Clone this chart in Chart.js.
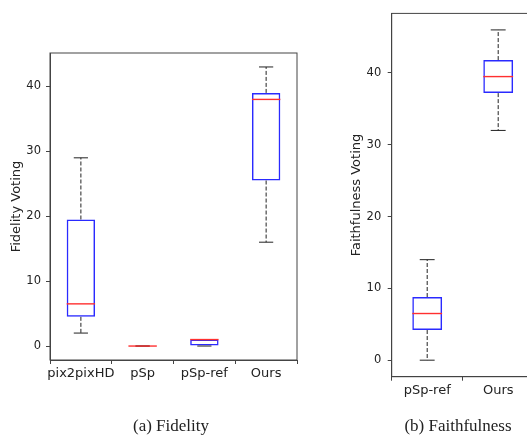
<!DOCTYPE html>
<html>
<head>
<meta charset="utf-8">
<script src="https://cdn.jsdelivr.net/npm/chart.js@4"></script>
<style>
  html, body { margin: 0; padding: 0; background: #fff; overflow: hidden; width: 527px; height: 436px; }
  .panel { position: absolute; top: 0; }
  .caption { position: absolute; top: 417px; font-family: "Liberation Serif", "Times New Roman", serif; font-size: 17px; line-height: 17px; color: #222; white-space: nowrap; transform: translateX(-50%); }
</style>
</head>
<body>
<div class="panel" style="left:0px"><canvas id="fidelityChart" width="320" height="436"></canvas></div>
<div class="panel" style="left:340px"><canvas id="faithChart" width="200" height="436"></canvas></div>
<div class="caption" style="left:171px">(a) Fidelity</div>
<div class="caption" style="left:458px">(b) Faithfulness</div>
<script>
// (a) Fidelity
const fidelityLabels = ['pix2pixHD', 'pSp', 'pSp-ref', 'Ours'];
const fidelityLow = [2, 0, 0, 16];
const fidelityQ1 = [4.5, 0, 0, 25.5];
const fidelityMedian = [6.5, 0, 1, 38];
const fidelityQ3 = [19.5, 0, 1, 39];
const fidelityHigh = [29, 0, 1, 43];
const fidelityTicks = [0, 10, 20, 30, 40];

// (b) Faithfulness
const faithLabels = ['pSp-ref', 'Ours'];
const faithLow = [0, 32];
const faithQ1 = [4.2, 37.2];
const faithMedian = [6.5, 39.5];
const faithQ3 = [8.8, 41.8];
const faithHigh = [14, 46];
const faithTicks = [0, 10, 20, 30, 40];

const FONT = 'DejaVu Sans';

// whiskers, caps, medians and the frame - chart.js has no boxplot
const boxExtras = (low, med, high) => ({
  id: 'boxExtras',
  afterDatasetsDraw(chart) {
    const { ctx, chartArea, scales: { y } } = chart;
    const meta = chart.getDatasetMeta(0);
    const q = chart.data.datasets[0].data;
    ctx.save();
    meta.data.forEach((bar, i) => {
      const cx = bar.x, half = bar.width / 2;
      const yLow = y.getPixelForValue(low[i]);
      const yHigh = y.getPixelForValue(high[i]);
      const yQ1 = y.getPixelForValue(q[i][0]);
      const yQ3 = y.getPixelForValue(q[i][1]);
      // whiskers
      ctx.strokeStyle = '#222';
      ctx.lineWidth = 1;
      ctx.setLineDash([4, 2]);
      ctx.beginPath();
      if (yHigh < yQ3) { ctx.moveTo(cx, yQ3); ctx.lineTo(cx, yHigh); }
      if (yLow > yQ1) { ctx.moveTo(cx, yQ1); ctx.lineTo(cx, yLow); }
      ctx.stroke();
      // caps
      ctx.setLineDash([]);
      ctx.beginPath();
      ctx.moveTo(cx - half / 2, yHigh); ctx.lineTo(cx + half / 2, yHigh);
      ctx.moveTo(cx - half / 2, yLow); ctx.lineTo(cx + half / 2, yLow);
      ctx.stroke();
      // median
      const yMed = y.getPixelForValue(med[i]);
      ctx.strokeStyle = '#ff3030';
      ctx.lineWidth = 1.4;
      ctx.beginPath();
      ctx.moveTo(cx - half, yMed); ctx.lineTo(cx + half, yMed);
      ctx.stroke();
    });
    ctx.strokeStyle = '#444';
    ctx.lineWidth = 1;
    ctx.strokeRect(chartArea.left, chartArea.top, chartArea.right - chartArea.left, chartArea.bottom - chartArea.top);
    ctx.restore();
  }
});

function makeBoxChart(id, cfg) {
  const ctx = document.getElementById(id).getContext('2d');
  return new Chart(ctx, {
    type: 'bar',
    data: {
      labels: cfg.labels,
      datasets: [{
        data: cfg.q1.map((v, i) => [v, cfg.q3[i]]),
        backgroundColor: 'rgba(255,255,255,0)',
        borderColor: '#2a2aff',
        borderWidth: 1.5,
        borderSkipped: false,
        barPercentage: cfg.boxWidth,
        categoryPercentage: 1
      }]
    },
    options: {
      responsive: false,
      animation: false,
      layout: { padding: { left: 0, top: cfg.padTop, right: cfg.padRight, bottom: 0 } },
      plugins: { legend: { display: false }, tooltip: { enabled: false } },
      scales: {
        x: {
          grid: { drawOnChartArea: false, drawTicks: true, tickLength: 4, color: '#444' },
          border: { display: true, color: '#444' },
          ticks: { font: { family: FONT, size: 13 }, color: '#222', padding: 2, maxRotation: 0, minRotation: 0, autoSkip: false },
          afterFit: s => { s.height = cfg.xHeight; }
        },
        y: {
          min: cfg.yMin,
          max: cfg.yMax,
          grid: { drawOnChartArea: false, drawTicks: true, tickLength: 4, color: '#444' },
          border: { display: true, color: '#444' },
          ticks: { font: { family: FONT, size: 11.5 }, color: '#222', padding: cfg.tickPad },
          afterBuildTicks: s => { s.ticks = cfg.ticks.map(v => ({ value: v })); },
          afterFit: s => { s.width = cfg.yWidth; },
          title: { display: true, text: cfg.title, font: { family: FONT, size: 13 }, color: '#222', padding: { top: 9, bottom: 0 } }
        }
      }
    },
    plugins: [boxExtras(cfg.low, cfg.median, cfg.high)]
  });
}

makeBoxChart('fidelityChart', {
  labels: fidelityLabels, low: fidelityLow, q1: fidelityQ1, median: fidelityMedian,
  q3: fidelityQ3, high: fidelityHigh, ticks: fidelityTicks,
  title: 'Fidelity Voting', yMin: -2.15, yMax: 45.15,
  boxWidth: 0.46, padTop: 53, padRight: 23, xHeight: 76, yWidth: 50, tickPad: 5
});

makeBoxChart('faithChart', {
  labels: faithLabels, low: faithLow, q1: faithQ1, median: faithMedian,
  q3: faithQ3, high: faithHigh, ticks: faithTicks,
  title: 'Faithfulness Voting', yMin: -2.3, yMax: 48.3,
  boxWidth: 0.42, padTop: 11, padRight: 6.3, xHeight: 59.3, yWidth: 51.7, tickPad: 6.5
});
</script>
</body>
</html>
